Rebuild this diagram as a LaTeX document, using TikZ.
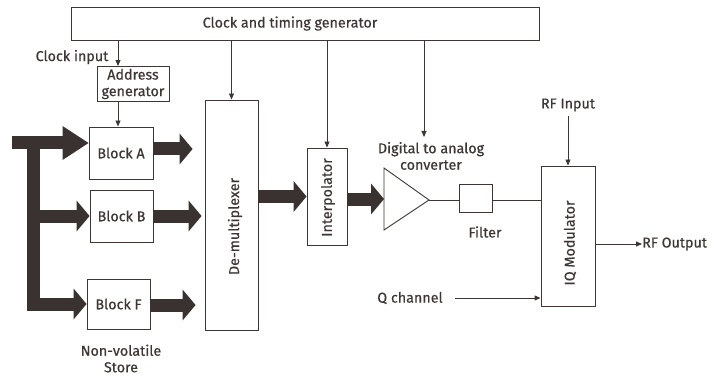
\documentclass[tikz,border=0pt]{standalone}
\usepackage{fontspec}
\setmainfont{Fira Sans}[FakeBold=0.45]
\usetikzlibrary{arrows.meta,calc}
\definecolor{ink}{RGB}{62,54,52}
\definecolor{fatc}{RGB}{58,50,48}
\begin{document}
\begin{tikzpicture}[x=1pt,y=-1pt, font=\fontsize{14.3}{16.5}\selectfont, text=ink,
 box/.style={draw=ink, line width=0.9pt, inner sep=0pt, align=center},
 thin/.style={draw=ink, line width=0.9pt, -{Triangle[length=6pt,width=5pt]}},
 plain/.style={draw=ink, line width=0.9pt},
 fatline/.style={draw=fatc, line width=13pt},
 fat/.style={draw=fatc, line width=13pt, -{Triangle[length=13pt,width=31pt,line width=0pt]}},
 fatbig/.style={draw=fatc, line width=13pt, -{Triangle[length=26pt,width=34pt,line width=0pt]}},
 lbl/.style={inner sep=0pt, align=center}]
\useasboundingbox (0,0) rectangle (723,377);

% boxes
\node[box, minimum width=468pt, minimum height=33pt] (clk) at (305,23.5) {};
\node[lbl] (clkt) at (290,23.5) {Clock and timing generator};
\node[box, minimum width=72pt, minimum height=35pt] (addr) at (133,84) {Address\\generator};
\node[box, minimum width=64pt, minimum height=52pt] (A) at (121,153) {Block A};
\node[box, minimum width=63pt, minimum height=52pt] (B) at (121.5,216) {Block B};
\node[box, minimum width=63pt, minimum height=50pt] (F) at (118.5,304) {Block F};
\node[box, minimum width=53pt, minimum height=230pt] (dmx) at (231.5,215) {};
\node[lbl, rotate=90] (dmxt) at (235,226.5) {De-multiplexer};
\node[box, minimum width=40pt, minimum height=97pt] (itp) at (327,196.5) {};
\node[lbl, rotate=90] (itpt) at (328,197.5) {Interpolator};
\node[box, minimum width=33pt, minimum height=28pt] (flt) at (475.5,198) {};
\node[lbl] (fltt) at (485,232) {Filter};
\node[box, minimum width=54pt, minimum height=140pt] (iq) at (568,236) {};
\node[lbl, rotate=90] (iqt) at (570,243) {IQ Modulator};

% labels
\node[lbl] (cin) at (72,57) {Clock input};
\node[lbl] (nvs) at (121,358.5) {Non-volatile\\Store};
\node[lbl] (dacl) at (431,156) {Digital to analog\\converter};
\node[lbl] (rfin) at (568,105) {RF Input};
\node[lbl, anchor=west] (rfout) at (642,244) {RF Output};
\node[lbl] (qch) at (410,298) {Q channel};

% DAC triangle
\coordinate (dacTL) at (384,168);
\coordinate (dacBL) at (384,230);
\coordinate (dacT) at (429,200);
\coordinate (dacIn) at (384,199);
\draw[plain, line join=miter] (dacTL) -- (dacT) -- (dacBL) -- cycle;

% clock arrows
\coordinate (c1) at (118,0);
\coordinate (c4) at (424,0);
\coordinate (dacTop) at (424,137);
\draw[thin] (clk.south -| c1) -- (addr.north -| c1);
\draw[thin] (addr.south -| c1) -- (A.north -| c1);
\draw[thin] (clk.south -| dmx.north) -- (dmx.north);
\draw[thin] (clk.south -| itp.north) -- (itp.north);
\draw[thin] (clk.south -| c4) -- (dacTop);

% analog chain
\draw[plain] (dacT) -- (flt.west |- dacT);
\draw[plain] (flt.east |- dacT) -- (iq.west |- dacT);
\draw[thin] ([yshift=-4pt]rfin.south) -- (iq.north);
\draw[thin] (iq.east |- rfout) -- (rfout.west);
\draw[thin] ([xshift=12pt]qch.east) -- (iq.west |- qch);

% fat data paths
\coordinate (busTop) at (33,137);
\coordinate (busBot) at (33,311);
\coordinate (inA) at (12,143);
\draw[fatline] (busTop) -- (busBot);
\draw[fatbig] (inA) -- (A.west |- inA);
\draw[fat] (B.west -| busTop) -- (B.west);
\draw[fat] (F.west -| busTop) -- (F.west);
\draw[fat] ([yshift=4pt]A.east) -- ([xshift=-12pt,yshift=4pt]dmx.west |- A.east);
\draw[fat] (B.east) -- ([xshift=-3pt]dmx.west |- B.east);
\draw[fat] ([yshift=-1pt]F.east) -- ([xshift=-9pt,yshift=-1pt]dmx.west |- F.east);
\draw[fat] (dmx.east |- itp) -- (itp.west);
\draw[fat] (itp.east |- dacIn) -- (dacIn);
\end{tikzpicture}
\end{document}
